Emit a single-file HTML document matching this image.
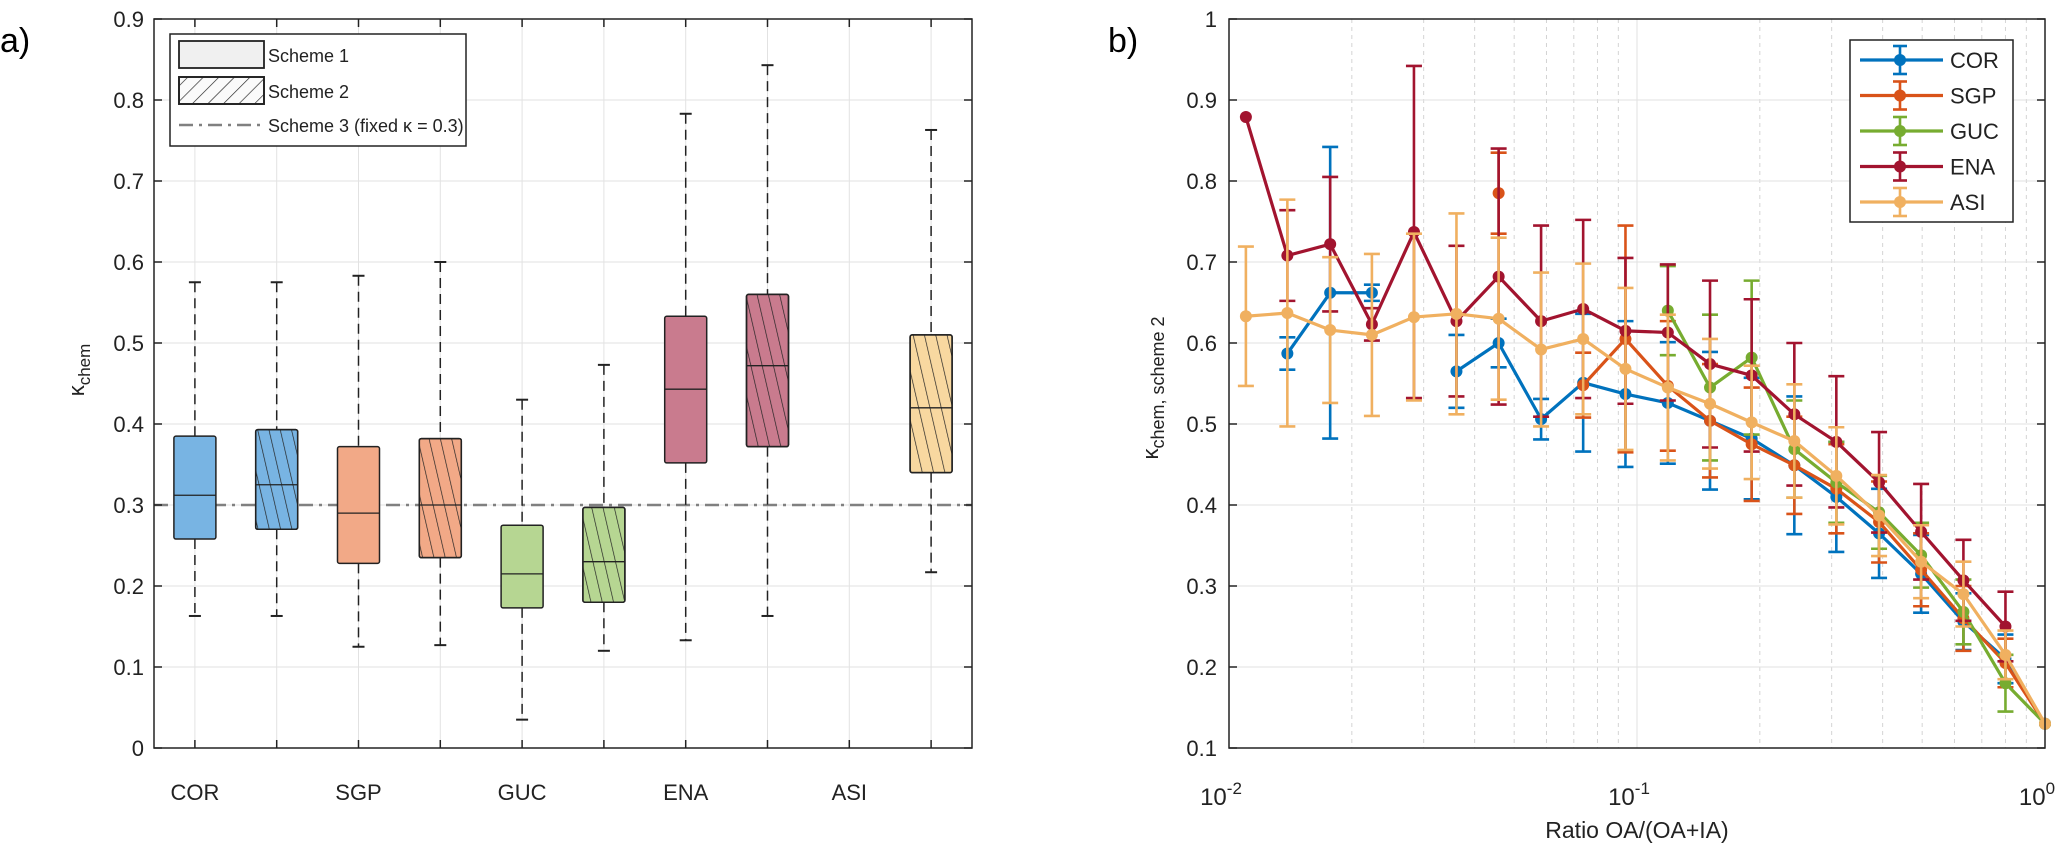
<!DOCTYPE html>
<html><head><meta charset="utf-8"><style>
body{margin:0;background:#fff;}
svg{display:block;font-family:"Liberation Sans",Arial,sans-serif;}
</style></head><body>
<svg id="fig" width="2067" height="847" viewBox="0 0 2067 847" xmlns="http://www.w3.org/2000/svg">
<defs>
<pattern id="hatch" patternUnits="userSpaceOnUse" width="11" height="40" patternTransform="rotate(-13)">
<line x1="0" y1="0" x2="0" y2="40" stroke="#222" stroke-width="1.4"/>
</pattern>
<pattern id="hatchLeg" patternUnits="userSpaceOnUse" width="11" height="11" patternTransform="rotate(45)">
<line x1="0" y1="0" x2="0" y2="11" stroke="#222" stroke-width="1.3"/>
</pattern>
</defs>
<text x="0" y="52" font-size="34">a)</text>
<text x="1108" y="52" font-size="34">b)</text>
<g id="pa"></g>
<g id="pb"></g>
</svg>
<script>
// ---------- Panel a data ----------
const boxPositions=[1,2,3,4,5,6,7,8,10];
const boxWhiskLo=[0.163,0.163,0.125,0.127,0.035,0.120,0.133,0.163,0.217];
const boxQ1=[0.258,0.270,0.228,0.235,0.173,0.180,0.352,0.372,0.340];
const boxMed=[0.312,0.325,0.290,0.300,0.215,0.230,0.443,0.472,0.420];
const boxQ3=[0.385,0.393,0.372,0.382,0.275,0.297,0.533,0.560,0.510];
const boxWhiskHi=[0.575,0.575,0.583,0.600,0.430,0.473,0.783,0.843,0.763];
const boxHatched=[false,true,false,true,false,true,false,true,true];
const boxColors=["#78b4e3","#78b4e3","#f2a987","#f2a987","#b6d692","#b6d692","#c97b8e","#c97b8e","#f8d8a0"];
const siteLabels=["COR","SGP","GUC","ENA","ASI"];
const siteLabelPos=[1,3,5,7,9];
const yTicksA=[0,0.1,0.2,0.3,0.4,0.5,0.6,0.7,0.8,0.9];
const fixedKappa=0.3;

// ---------- Panel b data ----------
const ratioX=[0.0110,0.0139,0.0177,0.0224,0.0284,0.0361,0.0458,0.0582,0.0738,0.0937,0.119,0.151,0.191,0.243,0.308,0.392,0.497,0.631,0.800,1.0];
const seriesNames=["COR","SGP","GUC","ENA","ASI"];
const seriesColors=["#0072bd","#d95319","#77ac30","#a2142f","#f0b060"];
const corY=[null,0.587,0.662,0.662,null,0.565,0.600,0.506,0.551,0.537,0.526,0.504,0.482,0.449,0.410,0.365,0.315,0.256,0.210,0.130];
const corErr=[null,0.02,0.18,0.01,null,0.045,0.03,0.025,0.085,0.09,0.075,0.085,0.075,0.085,0.068,0.055,0.048,0.035,0.03,0];
const sgpY=[null,null,null,null,null,null,0.785,null,0.548,0.605,0.547,0.504,0.475,0.449,0.420,0.379,0.320,0.260,0.205,0.130];
const sgpErr=[null,null,null,null,null,null,0.05,null,0.04,0.14,0.08,0.07,0.07,0.06,0.055,0.05,0.045,0.04,0.03,0];
const gucY=[null,null,null,null,null,null,null,null,null,null,0.640,0.545,0.582,0.469,0.428,0.391,0.338,0.268,0.180,0.130];
const gucErr=[null,null,null,null,null,null,null,null,null,null,0.055,0.09,0.095,0.06,0.05,0.045,0.04,0.04,0.035,0];
const enaY=[0.879,0.708,0.722,0.623,0.737,0.627,0.682,0.627,0.642,0.615,0.613,0.574,0.560,0.512,0.478,0.428,0.367,0.307,0.250,null];
const enaErr=[0,0.056,0.083,0.02,0.205,0.093,0.158,0.118,0.11,0.09,0.084,0.103,0.094,0.088,0.081,0.062,0.059,0.05,0.043,null];
const asiY=[0.633,0.637,0.616,0.610,0.632,0.636,0.630,0.592,0.605,0.568,0.545,0.525,0.502,0.479,0.436,0.387,0.330,0.290,0.215,0.130];
const asiErr=[0.086,0.14,0.09,0.1,0.103,0.124,0.1,0.095,0.093,0.1,0.09,0.08,0.07,0.07,0.06,0.05,0.045,0.04,0.03,0];
const yTicksB=[0.1,0.2,0.3,0.4,0.5,0.6,0.7,0.8,0.9,1];
const xDecades=[-2,-1,0];

const NS="http://www.w3.org/2000/svg";
function mk(parent,tag,attrs,txt){const e=document.createElementNS(NS,tag);for(const k in attrs)e.setAttribute(k,attrs[k]);if(txt!==undefined)e.textContent=txt;parent.appendChild(e);return e;}

// ---------- Panel a ----------
const pa=document.getElementById('pa');
const AL=154,AR=972,AT=19,AB=748;
const xa=p=>AL+(p-0.5)*(AR-AL)/10;
const ya=v=>AB-(v/0.9)*(AB-AT);
for(let p=1;p<=10;p++){const l=mk(pa,'line',{x1:xa(p),x2:xa(p),y1:AT,y2:AB,stroke:'#e2e2e2','stroke-width':1});

}
yTicksA.forEach(v=>{const l=mk(pa,'line',{x1:AL,x2:AR,y1:ya(v),y2:ya(v),stroke:'#e2e2e2','stroke-width':1});


const t=mk(pa,'text',{x:AL-10,y:ya(v)+8,'font-size':22,'text-anchor':'end',fill:'#222'},String(v));

});
const fk=mk(pa,'line',{x1:AL,x2:AR,y1:ya(fixedKappa),y2:ya(fixedKappa),stroke:'#808080','stroke-width':2.5,'stroke-dasharray':'14 6 3 6'});


const BW=42;
boxPositions.forEach((p,i)=>{const g=mk(pa,'g',{});


const cx=xa(p);
mk(g,'line',{x1:cx,x2:cx,y1:ya(boxWhiskHi[i]),y2:ya(boxQ3[i]),stroke:'#222','stroke-width':1.5,'stroke-dasharray':'10 6'});
mk(g,'line',{x1:cx,x2:cx,y1:ya(boxQ1[i]),y2:ya(boxWhiskLo[i]),stroke:'#222','stroke-width':1.5,'stroke-dasharray':'10 6'});
mk(g,'line',{x1:cx-6,x2:cx+6,y1:ya(boxWhiskHi[i]),y2:ya(boxWhiskHi[i]),stroke:'#222','stroke-width':2});
mk(g,'line',{x1:cx-6,x2:cx+6,y1:ya(boxWhiskLo[i]),y2:ya(boxWhiskLo[i]),stroke:'#222','stroke-width':2});
mk(g,'rect',{x:cx-BW/2,y:ya(boxQ3[i]),width:BW,height:ya(boxQ1[i])-ya(boxQ3[i]),fill:boxColors[i],stroke:'#222','stroke-width':1.5,rx:2});
if(boxHatched[i])mk(g,'rect',{x:cx-BW/2,y:ya(boxQ3[i]),width:BW,height:ya(boxQ1[i])-ya(boxQ3[i]),fill:'url(#hatch)',stroke:'#222','stroke-width':1.5,rx:2});
mk(g,'line',{x1:cx-BW/2,x2:cx+BW/2,y1:ya(boxMed[i]),y2:ya(boxMed[i]),stroke:'#222','stroke-width':1.3});});
mk(pa,'rect',{x:AL,y:AT,width:AR-AL,height:AB-AT,fill:'none',stroke:'#222','stroke-width':1.5});
for(let p=1;p<=10;p++){mk(pa,'line',{x1:xa(p),x2:xa(p),y1:AB,y2:AB-8,stroke:'#222','stroke-width':1.5});mk(pa,'line',{x1:xa(p),x2:xa(p),y1:AT,y2:AT+8,stroke:'#222','stroke-width':1.5});}
yTicksA.forEach(v=>{mk(pa,'line',{x1:AL,x2:AL+8,y1:ya(v),y2:ya(v),stroke:'#222','stroke-width':1.5});mk(pa,'line',{x1:AR,x2:AR-8,y1:ya(v),y2:ya(v),stroke:'#222','stroke-width':1.5});});
siteLabels.forEach((s,i)=>{const t=mk(pa,'text',{x:xa(siteLabelPos[i]),y:800,'font-size':22,'text-anchor':'middle',fill:'#222'},s);

});
const yla=mk(pa,'text',{transform:'translate(84,370) rotate(-90)','font-size':22,'text-anchor':'middle',fill:'#222'});


yla.innerHTML='κ<tspan font-size="17" dy="6">chem</tspan>';
// legend a
const lg=mk(pa,'g',{});


mk(lg,'rect',{x:170,y:34,width:296,height:112,fill:'#fff',stroke:'#222','stroke-width':1.5});
mk(lg,'rect',{x:179,y:41,width:85,height:27,fill:'#f0f0f0',stroke:'#222','stroke-width':1.8});
mk(lg,'rect',{x:179,y:77,width:85,height:27,fill:'#fafafa',stroke:'#222','stroke-width':1.8});
mk(lg,'rect',{x:179,y:77,width:85,height:27,fill:'url(#hatchLeg)',stroke:'#222','stroke-width':1.8});
mk(lg,'line',{x1:179,x2:264,y1:125,y2:125,stroke:'#808080','stroke-width':2.5,'stroke-dasharray':'14 6 3 6'});
mk(lg,'text',{x:268,y:62,'font-size':18,fill:'#222'},'Scheme 1');
mk(lg,'text',{x:268,y:98,'font-size':18,fill:'#222'},'Scheme 2');
mk(lg,'text',{x:268,y:132,'font-size':18,fill:'#222'},'Scheme 3 (fixed κ = 0.3)');

// ---------- Panel b ----------
const pb=document.getElementById('pb');
const BL=1229,BR=2045,BT=19,BB=748;
const xb=v=>BL+(Math.log10(v)+2)/2*(BR-BL);
const yb=v=>BB-(v-0.1)/0.9*(BB-BT);
for(let d=-2;d<0;d++){for(let m=2;m<=9;m++){const l=mk(pb,'line',{x1:xb(m*Math.pow(10,d)),x2:xb(m*Math.pow(10,d)),y1:BT,y2:BB,stroke:'#d4d4d4','stroke-width':1,'stroke-dasharray':'4 4'});

}}
xDecades.forEach(d=>{mk(pb,'line',{x1:xb(Math.pow(10,d)),x2:xb(Math.pow(10,d)),y1:BT,y2:BB,stroke:'#e2e2e2','stroke-width':1});
const t=mk(pb,'text',{x:xb(Math.pow(10,d))-8,y:805,'font-size':24,'text-anchor':'middle',fill:'#222'});


t.innerHTML='10<tspan font-size="17" dy="-11">'+d+'</tspan>';});
yTicksB.forEach(v=>{const l=mk(pb,'line',{x1:BL,x2:BR,y1:yb(v),y2:yb(v),stroke:'#e2e2e2','stroke-width':1});


const t=mk(pb,'text',{x:BL-12,y:yb(v)+8,'font-size':22,'text-anchor':'end',fill:'#222'},String(v));

});
const allY=[corY,sgpY,gucY,enaY,asiY],allE=[corErr,sgpErr,gucErr,enaErr,asiErr];
allY.forEach((ys,s)=>{const g=mk(pb,'g',{});


const col=seriesColors[s];let d='';let pen=false;
ys.forEach((y,i)=>{if(y===null){pen=false;return;}d+=(pen?'L':'M')+xb(ratioX[i])+' '+yb(y)+' ';pen=true;});
mk(g,'path',{d:d,fill:'none',stroke:col,'stroke-width':3.2,'stroke-linejoin':'round'});
ys.forEach((y,i)=>{if(y===null)return;const e=allE[s][i],cx=xb(ratioX[i]);
if(e>0){mk(g,'line',{x1:cx,x2:cx,y1:yb(y+e),y2:yb(y-e),stroke:col,'stroke-width':2.6});
mk(g,'line',{x1:cx-8,x2:cx+8,y1:yb(y+e),y2:yb(y+e),stroke:col,'stroke-width':2.6});
mk(g,'line',{x1:cx-8,x2:cx+8,y1:yb(y-e),y2:yb(y-e),stroke:col,'stroke-width':2.6});}
const c=mk(g,'circle',{cx:cx,cy:yb(y),r:6,fill:col});

});});
mk(pb,'rect',{x:BL,y:BT,width:BR-BL,height:BB-BT,fill:'none',stroke:'#222','stroke-width':1.5});
yTicksB.forEach(v=>{mk(pb,'line',{x1:BL,x2:BL+8,y1:yb(v),y2:yb(v),stroke:'#222','stroke-width':1.5});mk(pb,'line',{x1:BR,x2:BR-8,y1:yb(v),y2:yb(v),stroke:'#222','stroke-width':1.5});});
const xlb=mk(pb,'text',{x:1637,y:838,'font-size':23,'text-anchor':'middle',fill:'#222'},'Ratio OA/(OA+IA)');


const ylb=mk(pb,'text',{transform:'translate(1158,388) rotate(-90)','font-size':22,'text-anchor':'middle',fill:'#222'});


ylb.innerHTML='κ<tspan font-size="18" dy="6">chem, scheme 2</tspan>';
// legend b
const lb=mk(pb,'g',{});


mk(lb,'rect',{x:1850,y:40,width:163,height:182,fill:'#fff',stroke:'#222','stroke-width':1.5});
seriesNames.forEach((n,i)=>{const y=60+i*35.5,col=seriesColors[i];
mk(lb,'line',{x1:1860,x2:1943,y1:y,y2:y,stroke:col,'stroke-width':3.2});
mk(lb,'line',{x1:1900,x2:1900,y1:y-14,y2:y+14,stroke:col,'stroke-width':2.6});
mk(lb,'line',{x1:1893,x2:1907,y1:y-14,y2:y-14,stroke:col,'stroke-width':2.6});
mk(lb,'line',{x1:1893,x2:1907,y1:y+14,y2:y+14,stroke:col,'stroke-width':2.6});
mk(lb,'circle',{cx:1900,cy:y,r:6,fill:col});
const t=mk(lb,'text',{x:1950,y:y+8,'font-size':22,fill:'#222'},n);

});
</script>
</body></html>
